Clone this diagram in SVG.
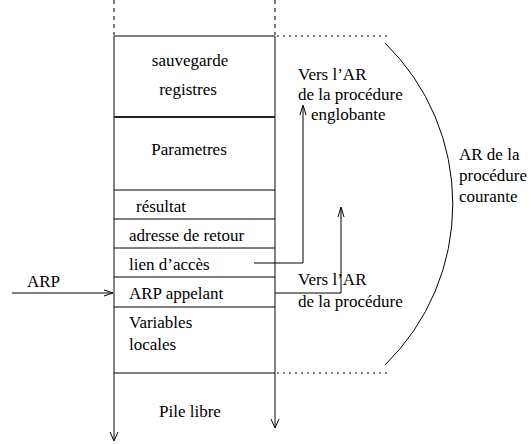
<svg xmlns="http://www.w3.org/2000/svg" width="531" height="444" viewBox="0 0 531 444">
<style>
text{font-family:"Liberation Serif","Times New Roman",serif;font-size:17px;fill:#000}
.c{text-anchor:middle}
.ln{stroke:#000;stroke-width:1;fill:none}
.side{stroke:#444;stroke-width:1.3;fill:none}
.dash{stroke:#333;stroke-width:1.3;stroke-dasharray:4,4;fill:none}
.dot{stroke:#000;stroke-width:1;stroke-dasharray:2,4;fill:none}
.head{stroke:#000;stroke-width:1;fill:none}
</style>
<g id="stack">
<path class="dash" d="M114,0 V35 M275,0 V35"/>
<path class="side" d="M114,36 V440 M275,36 V427"/>
<path class="head" d="M110,432 L114,441 L118,432 M271,419 L275,428 L279,419"/>
<path class="ln" d="M114,36 H275 M114,190 H275 M114,219 H275 M114,248 H275 M114,277 H275 M114,307 H275 M114,373 H275"/>
<path stroke="#222" stroke-width="2" d="M114,117 H275"/>
</g>
<g id="sauvegarde"><text class="c" x="190" y="66">sauvegarde</text><text class="c" x="188" y="95">registres</text></g>
<g id="parametres"><text class="c" x="189" y="155">Parametres</text></g>
<g id="resultat"><text x="136" y="212">résultat</text></g>
<g id="adresse"><text x="129" y="241">adresse de retour</text></g>
<g id="lien"><text x="129" y="270">lien d’accès</text></g>
<g id="arp-appelant"><text x="129" y="299">ARP appelant</text></g>
<g id="variables"><text x="129" y="328">Variables</text><text x="129" y="350">locales</text></g>
<g id="pile"><text class="c" x="190" y="417">Pile libre</text></g>
<g id="arp"><text x="27" y="287">ARP</text></g>
<g id="labels">
<text x="298" y="80">Vers l’AR</text>
<text x="298" y="100">de la procédure</text>
<text x="311" y="120">englobante</text>
<text x="298" y="285">Vers l’AR</text>
<text x="298" y="307">de la procédure</text>
<text x="459" y="160">AR de la</text>
<text x="459" y="181">procédure</text>
<text x="459" y="202">courante</text>
</g>
<g id="connectors">
<path class="ln" d="M12,293 H113"/>
<path class="head" d="M104,290 L113,293 L104,296"/>
<path class="ln" d="M254,263 H303 V106"/>
<path class="head" d="M300,115 L303,105 L306,115"/>
<path class="ln" d="M275,293 H341 V208"/>
<path class="head" d="M338,217 L341,207 L344,217"/>
<path class="dot" d="M277,36 H390 M277,373 H390"/>
<path class="ln" d="M385,43 A225,225 0 0 1 385,365"/>
</g>
</svg>
